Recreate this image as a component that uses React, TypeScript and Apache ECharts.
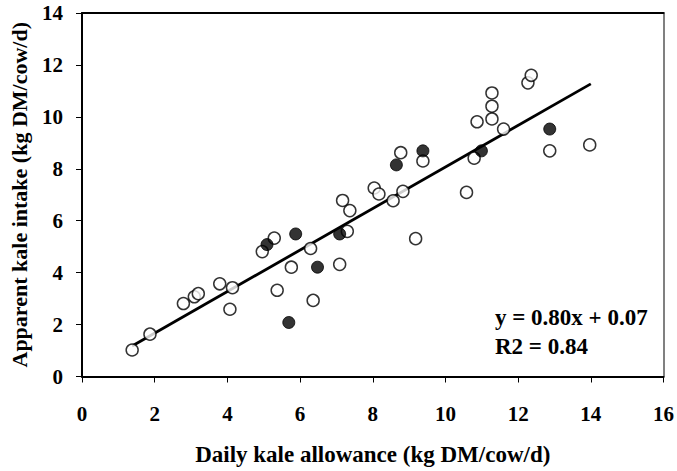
import React, { useEffect, useRef } from "react";
import * as echarts from "echarts";

const openPoints: [number, number][] = [
  [1.38, 1.02], [1.87, 1.63], [2.79, 2.81], [3.09, 3.07], [3.2, 3.19],
  [3.79, 3.57], [4.07, 2.59], [4.14, 3.42], [4.96, 4.81], [5.29, 5.33],
  [5.37, 3.32], [5.76, 4.21], [6.29, 4.93], [6.36, 2.93], [7.09, 4.32],
  [7.17, 6.78], [7.3, 5.59], [7.37, 6.39], [8.04, 7.26], [8.17, 7.03],
  [8.83, 7.13], [8.56, 6.77], [10.58, 7.09], [9.18, 5.31], [8.77, 8.62],
  [9.38, 8.3], [10.79, 8.41], [10.87, 9.81], [11.28, 9.92], [11.28, 10.41],
  [11.28, 10.92], [11.6, 9.53], [12.27, 11.31], [12.36, 11.6], [12.87, 8.69],
  [13.97, 8.92],
];

const filledPoints: [number, number][] = [
  [5.09, 5.08], [5.69, 2.08], [5.88, 5.49], [6.48, 4.21], [7.09, 5.49],
  [8.65, 8.15], [9.38, 8.69], [10.99, 8.69], [12.87, 9.53],
];

const slope = 0.8;
const intercept = 0.07;
const trendX = [1.38, 14.0];
const xTicks = [0, 2, 4, 6, 8, 10, 12, 14, 16];
const yTicks = [0, 2, 4, 6, 8, 10, 12, 14];

const FONT = "Times New Roman";

export default function App() {
  const ref = useRef<HTMLDivElement>(null);
  useEffect(() => {
    if (!ref.current) return;
    const chart = echarts.init(ref.current, null, { renderer: "svg" });
    const trend = trendX.map((x) => [x, slope * x + intercept]);
    chart.setOption({
      animation: false,
      backgroundColor: "#ffffff",
      grid: { left: 82, top: 13, right: 13, bottom: 93 },
      xAxis: [
        {
          type: "value",
          min: xTicks[0],
          max: xTicks[xTicks.length - 1],
          interval: 2,
          name: "Daily kale allowance (kg DM/cow/d)",
          nameLocation: "middle",
          nameGap: 78,
          nameTextStyle: { fontFamily: FONT, fontWeight: 700, fontSize: 23, color: "#000", verticalAlign: "middle" },
          axisLine: { lineStyle: { color: "#000", width: 2 } },
          axisTick: { show: true, length: 6, inside: false, lineStyle: { color: "#000", width: 1 } },
          axisLabel: { fontFamily: FONT, fontWeight: 700, fontSize: 21, color: "#000", margin: 27 },
          splitLine: { show: false },
        },
        {
          type: "value",
          position: "top",
          min: 0,
          max: 16,
          axisLine: { show: true, onZero: false, lineStyle: { color: "#000", width: 2 } },
          axisTick: { show: false },
          axisLabel: { show: false },
          splitLine: { show: false },
        },
      ],
      yAxis: [
        {
          type: "value",
          min: yTicks[0],
          max: yTicks[yTicks.length - 1],
          interval: 2,
          name: "Apparent kale intake (kg DM/cow/d)",
          nameLocation: "middle",
          nameGap: 63,
          nameRotate: 90,
          nameTextStyle: { fontFamily: FONT, fontWeight: 700, fontSize: 22, color: "#000", verticalAlign: "middle" },
          axisLine: { show: true, lineStyle: { color: "#000", width: 2 } },
          axisTick: { show: true, length: 6, lineStyle: { color: "#000", width: 1 } },
          axisLabel: { fontFamily: FONT, fontWeight: 700, fontSize: 21, color: "#000", margin: 19 },
          splitLine: { show: false },
        },
        {
          type: "value",
          position: "right",
          min: 0,
          max: 14,
          axisLine: { show: true, onZero: false, lineStyle: { color: "#808080", width: 2 } },
          axisTick: { show: false },
          axisLabel: { show: false },
          splitLine: { show: false },
        },
      ],
      series: [
        {
          type: "line",
          data: trend,
          symbol: "none",
          lineStyle: { color: "#000", width: 2.8 },
          z: 1,
        },
        {
          type: "scatter",
          data: openPoints,
          symbol: "circle",
          symbolSize: 12,
          itemStyle: { color: "#fff", borderColor: "#000", borderWidth: 1.5 },
          z: 2,
        },
        {
          type: "scatter",
          data: filledPoints,
          symbol: "circle",
          symbolSize: 12,
          itemStyle: { color: "#000", borderColor: "#000", borderWidth: 1 },
          z: 3,
        },
      ],
      graphic: [
        {
          type: "text",
          left: 495,
          top: 306,
          style: {
            text: "y = 0.80x + 0.07",
            font: `bold 23px "${FONT}"`,
            fill: "#000",
          },
        },
        {
          type: "text",
          left: 495,
          top: 335,
          style: {
            text: "R2 = 0.84",
            font: `bold 23px "${FONT}"`,
            fill: "#000",
          },
        },
      ],
    });
    return () => chart.dispose();
  }, []);
  return <div ref={ref} style={{ width: 677, height: 471, position: "absolute", left: 0, top: 0 }} />;
}
